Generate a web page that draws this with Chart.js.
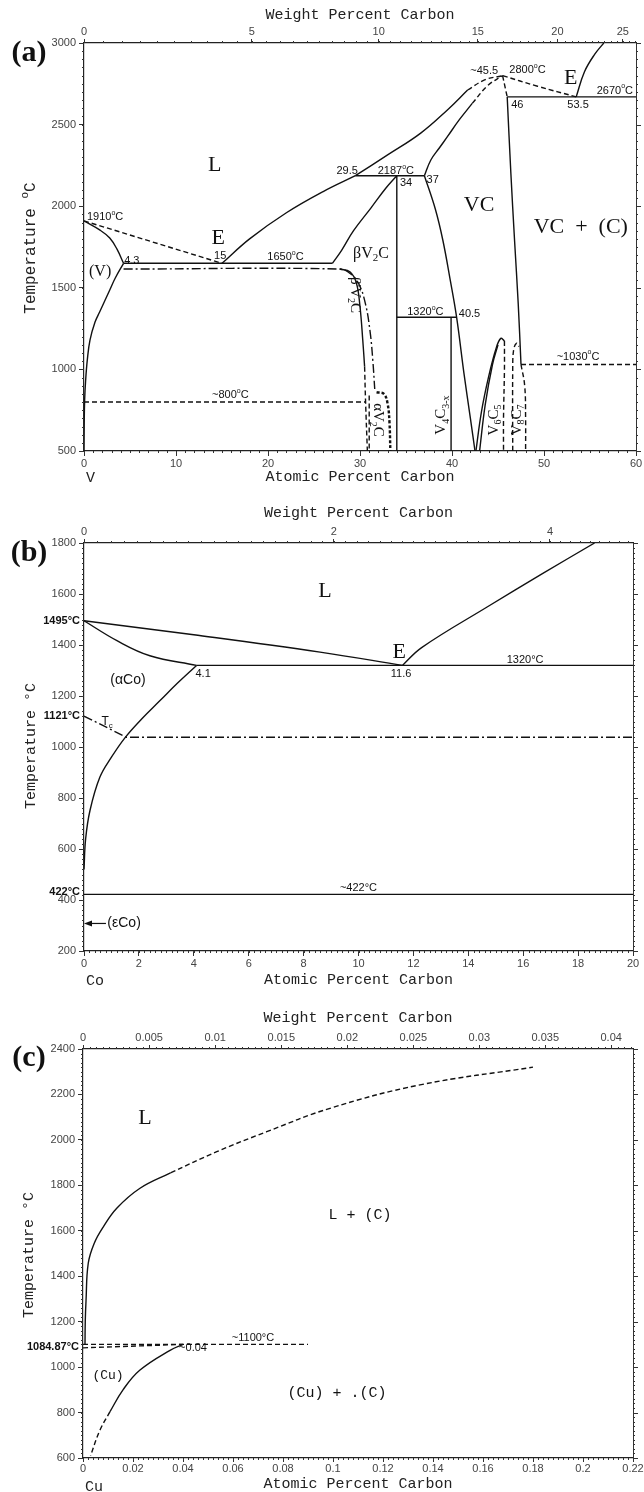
<!DOCTYPE html>
<html lang="en">
<head>
<meta charset="UTF-8">
<meta name="viewport" content="width=device-width, initial-scale=1.0">
<title>V-C, Co-C and Cu-C phase diagrams</title>
<script src="https://cdn.jsdelivr.net/npm/chart.js"></script>
<style>
  body { margin: 0; background: #fff; }
  .panel { position: absolute; left: 0; }
</style>
</head>
<body>
<canvas id="chartV" class="panel" style="top:0" width="644" height="490"></canvas>
<canvas id="chartCo" class="panel" style="top:490px" width="644" height="500"></canvas>
<canvas id="chartCu" class="panel" style="top:990px" width="644" height="502"></canvas>

<script>
// ---------- V-C  (atomic % C, deg C) ----------
const vcAtomicTicks = [0, 10, 20, 30, 40, 50, 60];
const vcWeightTicks = [0, 5, 10, 15, 20, 25];
const vcTempTicks = [500, 1000, 1500, 2000, 2500, 3000];

const vcLiqV = [[0, 1910], [15, 1650]];
const vcSolidusV = [[0, 1910], [1.7, 1855], [2.8, 1805], [3.6, 1735], [4.3, 1650]];
const vcSolvusV = [[4.3, 1650], [3.4, 1560], [2.8, 1487], [1.7, 1352], [1.2, 1290], [0.65, 1180], [0.36, 1058], [0.18, 935], [0.07, 812], [0.02, 650], [0, 500]];
const vcLiqBeta = [[15, 1650], [18, 1800], [22, 1960], [26, 2090], [29.5, 2187]];
const vcLiqVC = [[29.5, 2187], [33, 2314], [36.6, 2448], [39.5, 2590], [41.7, 2712]];
const vcLiqVCDash = [[41.7, 2712], [43.6, 2775], [45.5, 2800]];
const vcSolidusVC = [[37, 2187], [37.7, 2283], [38.6, 2355], [39.5, 2426], [40.8, 2530], [42.2, 2630]];
const vcSolidusVCDash = [[42.2, 2630], [43.9, 2740], [45.5, 2800]];
const vcPeakRight = [[45.5, 2800], [46, 2670]];
const vcLiqCDash = [[45.5, 2800], [49.3, 2735], [53.5, 2670]];
const vcEutecticC = [[46, 2670], [60, 2670]];
const vcLiqGraphite = [[53.5, 2670], [54.4, 2824], [55.5, 2930], [56.5, 3000]];
const vcRightVC = [[46, 2670], [46.4, 2200], [46.8, 1790], [47.2, 1400], [47.5, 1030]];
const vcLeftVC = [[37, 2187], [38.2, 1980], [39.0, 1793], [39.8, 1550], [40.5, 1320], [41.3, 976], [42.0, 700], [42.5, 500]];
const vcPeritectic = [[29.5, 2187], [37, 2187]];
const vcV2CEdge = [[34, 2187], [34, 500]];
const vcEutecticV = [[4.3, 1650], [27, 1650]];
const vcBetaLeft = [[27, 1650], [28.0, 1730], [29.3, 1850], [31.2, 1990], [32.8, 2110], [34, 2187]];
const vcBetaOrder = [[4.3, 1615], [27.8, 1615], [29.0, 1585], [29.9, 1520], [30.6, 1400], [31.1, 1230], [31.4, 1050], [31.6, 880]];
const vcBetaSolvus = [[27.8, 1615], [28.9, 1598], [29.6, 1530], [30.0, 1384], [30.3, 1180], [30.5, 1017]];
const vcBetaSolvusDash = [[30.5, 1017], [30.6, 812], [30.8, 500]];
const vcLine800 = [[0, 800], [30.6, 800]];
const vcAlphaLeft = [[31.0, 840], [31.0, 500]];
const vcAlphaRight = [[31.8, 860], [32.6, 850], [33.0, 790], [33.2, 680], [33.3, 500]];
const vcV4C3Top = [[34, 1320], [40.5, 1320]];
const vcV4C3Edge = [[39.9, 1320], [39.9, 500]];
const vcV6C5Outer = [[42.6, 500], [43.2, 740], [44.0, 960], [44.8, 1130], [45.3, 1190], [45.7, 1175]];
const vcV6C5Inner = [[43.0, 500], [43.6, 780], [44.4, 1030], [45.0, 1150]];
const vcV6C5Right = [[45.7, 1175], [45.7, 1000], [45.6, 700], [45.6, 500]];
const vcV8C7Left = [[46.6, 500], [46.6, 1000], [46.7, 1120], [47.0, 1160], [47.3, 1140]];
const vcV8C7Right = [[47.5, 1030], [47.9, 900], [48.0, 700], [48.0, 500]];
const vcLine1030 = [[47.5, 1030], [60, 1030]];

const vcLabels = [
  ['L', 14.2, 2252, 'phase'],
  ['E', 14.6, 1805, 'phase'],
  ['(V)', 1.75, 1597, 'phaseSm'],
  ['1910^oC', 2.3, 1932, 'num'],
  ['4.3', 5.2, 1666, 'num'],
  ['15', 14.8, 1695, 'num'],
  ['1650^oC', 21.9, 1687, 'num'],
  ['29.5', 28.6, 2217, 'num'],
  ['2187^oC', 33.9, 2217, 'num'],
  ['34', 35.0, 2140, 'num'],
  ['37', 37.9, 2160, 'num'],
  ['~45.5', 43.5, 2830, 'num'],
  ['2800^oC', 48.2, 2834, 'num'],
  ['E', 52.9, 2784, 'phase'],
  ['2670^oC', 57.7, 2708, 'num'],
  ['46', 47.1, 2620, 'num'],
  ['53.5', 53.7, 2620, 'num'],
  ['VC', 42.95, 2007, 'phase'],
  ['VC  +  (C)', 54.0, 1874, 'phase'],
  ['βV_2C', 31.2, 1711, 'phaseSm'],
  ["β'V_2C", 29.5, 1456, 'phaseXs', 90],
  ['1320^oC', 37.1, 1353, 'num'],
  ['40.5', 41.9, 1339, 'num'],
  ['~1030^oC', 53.7, 1078, 'num'],
  ['~800^oC', 15.9, 843, 'num'],
  ['αV_2C', 31.9, 690, 'phaseXs', 90],
  ['V_4C_{3-x}', 38.85, 720, 'phaseXs', -90],
  ['V_6C_5', 44.6, 690, 'phaseXs', -90],
  ['V_8C_7', 47.1, 690, 'phaseXs', -90]
];

// ---------- Co-C ----------
const coAtomicTicks = [0, 2, 4, 6, 8, 10, 12, 14, 16, 18, 20];
const coWeightTicks = [0, 2, 4];
const coTempTicks = [200, 400, 600, 800, 1000, 1200, 1400, 1600, 1800];

const coLiquidus = [[0, 1495], [4, 1440], [8.6, 1372], [11.6, 1320]];
const coSolidus = [[0, 1495], [1.2, 1417], [2.4, 1358], [4.1, 1320]];
const coEutectic = [[4.1, 1320], [20, 1320]];
const coGraphite = [[11.6, 1320], [12.3, 1390], [14.7, 1550], [16.7, 1680], [18.6, 1800]];
const coSolvus = [[4.1, 1320], [3.4, 1250], [2.77, 1182], [2.1, 1110], [1.49, 1036], [1.0, 960], [0.58, 882], [0.22, 752], [0.06, 640], [0, 520]];
const coCurie = [[0, 1121], [1.55, 1038], [20, 1038]];
const coMartensite = [[0, 422], [20, 422]];
const coEpsArrow = [[0.8, 308], [0, 308]];

const coLabels = [
  ['L', 8.78, 1612, 'phase'],
  ['E', 11.48, 1372, 'phase'],
  ['4.1', 4.34, 1288, 'num'],
  ['11.6', 11.55, 1288, 'num'],
  ['1320°C', 16.07, 1340, 'num'],
  ['(αCo)', 1.6, 1262, 'sans'],
  ['T_c', 0.84, 1098, 'sansSm'],
  ['~422°C', 10, 446, 'num'],
  ['(εCo)', 0.85, 310, 'sans', 0, 'left'],
  ['1495°C', 0, 1495, 'numB', 0, 'out'],
  ['1121°C', 0, 1121, 'numB', 0, 'out'],
  ['422°C', 0, 432, 'numB', 0, 'out']
];

// ---------- Cu-C ----------
const cuAtomicTicks = [0, 0.02, 0.04, 0.06, 0.08, 0.1, 0.12, 0.14, 0.16, 0.18, 0.2, 0.22];
const cuAtomicLabels = ['0', '0.02', '0.04', '0.06', '0.08', '0.1', '0.12', '0.14', '0.16', '0.18', '0.2', '0.22'];
const cuWeightTicks = [0, 0.005, 0.01, 0.015, 0.02, 0.025, 0.03, 0.035, 0.04];
const cuWeightLabels = ['0', '0.005', '0.01', '0.015', '0.02', '0.025', '0.03', '0.035', '0.04'];
const cuTempTicks = [600, 800, 1000, 1200, 1400, 1600, 1800, 2000, 2200, 2400];

const cuLiquidus = [[0.0008, 1100], [0.0009, 1200], [0.0012, 1290], [0.0021, 1457], [0.0045, 1545], [0.008, 1615], [0.0135, 1699], [0.0228, 1787], [0.035, 1855]];
const cuLiquidusDash = [[0.035, 1855], [0.0535, 1948], [0.0735, 2036], [0.0988, 2139], [0.1348, 2242], [0.18, 2320]];
const cuLine1100 = [[0, 1100], [0.09, 1100]];
const cuSolidus = [[0, 1084.87], [0.04, 1100]];
const cuSolvus = [[0.04, 1100], [0.035, 1075], [0.0228, 987], [0.016, 900], [0.0108, 804]];
const cuSolvusDash = [[0.0108, 804], [0.0068, 723], [0.003, 610]];

const cuLabels = [
  ['L', 0.0248, 2096, 'phase'],
  ['L + (C)', 0.1108, 1670, 'mono'],
  ['(Cu)', 0.01, 965, 'monoSm'],
  ['(Cu) + .(C)', 0.1016, 886, 'mono'],
  ['~1100°C', 0.068, 1128, 'num'],
  ['~0.04', 0.044, 1084, 'num'],
  ['1084.87°C', 0, 1090, 'numB', 0, 'out']
];

// ---------- drawing helpers ----------
const MASS_C = 12.011;
// atomic % carbon for a weight % carbon
const atomicFromWeight = (w, metal) => 100 * (w / MASS_C) / (w / MASS_C + (100 - w) / metal);

const SERIF = '"Liberation Serif", "DejaVu Serif", serif';
const SANS = '"Liberation Sans", Arial, sans-serif';
const MONO = '"Liberation Mono", "DejaVu Sans Mono", monospace';

const STYLES = {
  phase: { family: SERIF, size: 22 },
  phaseSm: { family: SERIF, size: 16 },
  phaseXs: { family: SERIF, size: 15 },
  num: { family: SANS, size: 11 },
  numB: { family: SANS, size: 11, weight: 'bold' },
  sans: { family: SANS, size: 14 },
  sansSm: { family: SANS, size: 12 },
  mono: { family: MONO, size: 15 },
  monoSm: { family: MONO, size: 13 },
  title: { family: MONO, size: 15, color: '#222' },
  titleA: { family: MONO, size: 16, color: '#222' },
  tag: { family: SERIF, size: 30, weight: 'bold' }
};

const DASH = { solid: [], dash: [5, 3], dashdot: [9, 3, 2, 3], bold: [3, 2] };

function parseRich(str) {
  const segs = [];
  let buf = '', i = 0;
  while (i < str.length) {
    const c = str[i];
    if ((c === '_' || c === '^') && i + 1 < str.length) {
      if (buf) { segs.push({ t: buf, k: 0 }); buf = ''; }
      let t;
      if (str[i + 1] === '{') { const j = str.indexOf('}', i); t = str.slice(i + 2, j); i = j + 1; }
      else { t = str[i + 1]; i += 2; }
      segs.push({ t, k: c === '_' ? -1 : 1 });
    } else { buf += c; i++; }
  }
  if (buf) segs.push({ t: buf, k: 0 });
  return segs;
}

function drawRich(ctx, text, x, y, st, rot, align) {
  const segs = parseRich(text);
  const fontFor = k => `${st.weight || 'normal'} ${k ? Math.round(st.size * 0.68) : st.size}px ${st.family}`;
  ctx.save();
  ctx.translate(x, y);
  if (rot) ctx.rotate(rot * Math.PI / 180);
  ctx.textBaseline = 'middle';
  ctx.textAlign = 'left';
  ctx.fillStyle = st.color || '#111';
  let total = 0;
  segs.forEach(s => { ctx.font = fontFor(s.k); s.w = ctx.measureText(s.t).width; total += s.w; });
  let cx = align === 'left' ? 0 : align === 'right' ? -total : -total / 2;
  segs.forEach(s => {
    ctx.font = fontFor(s.k);
    ctx.fillText(s.t, cx, s.k > 0 ? -st.size * 0.38 : s.k < 0 ? st.size * 0.3 : 0);
    cx += s.w;
  });
  ctx.restore();
}

const stepVals = (min, max, step) => {
  const out = [];
  for (let i = 0; min + i * step <= max + step * 1e-6; i++) out.push(min + i * step);
  return out;
};

function tickRun(ctx, vals, toPx, side, a, len) {
  ctx.beginPath();
  vals.forEach(v => {
    const q = Math.round(toPx(v)) + 0.5;
    if (side === 'bottom') { ctx.moveTo(q, a.bottom); ctx.lineTo(q, a.bottom + len); }
    if (side === 'top') { ctx.moveTo(q, a.top); ctx.lineTo(q, a.top - len); }
    if (side === 'left') { ctx.moveTo(a.left, q); ctx.lineTo(a.left - len, q); }
    if (side === 'right') { ctx.moveTo(a.right, q); ctx.lineTo(a.right + len, q); }
  });
  ctx.stroke();
}

const tickFont = { family: SANS, size: 11 };

function makePanel(id, p) {
  const datasets = p.curves.map(([pts, style, smooth, width]) => ({
    data: pts.map(([x, y]) => ({ x, y })),
    showLine: true,
    pointRadius: 0,
    borderColor: '#111',
    borderWidth: width || 1.4,
    borderDash: DASH[style],
    tension: smooth ? 0.4 : 0
  }));
  const weightPos = p.wTicks.map(w => atomicFromWeight(w, p.metal));

  const decor = {
    id: 'decor',
    afterDraw(chart) {
      const { ctx, chartArea: a, scales } = chart;
      const xs = scales.x, ys = scales.y;
      ctx.save();
      ctx.strokeStyle = '#333';
      ctx.lineWidth = 1;
      // right frame edge
      ctx.beginPath();
      ctx.moveTo(a.right + 0.5, a.top);
      ctx.lineTo(a.right + 0.5, a.bottom);
      ctx.stroke();
      const px = v => xs.getPixelForValue(v);
      const py = v => ys.getPixelForValue(v);
      const pw = w => xs.getPixelForValue(atomicFromWeight(w, p.metal));
      tickRun(ctx, stepVals(p.xMin, p.xMax, p.minor.x), px, 'bottom', a, 2);
      tickRun(ctx, stepVals(p.yMin, p.yMax, p.minor.y), py, 'left', a, 2);
      tickRun(ctx, stepVals(p.yMin, p.yMax, p.minor.y), py, 'right', a, 2);
      tickRun(ctx, p.yTicks, py, 'right', a, 5);
      tickRun(ctx, stepVals(0, p.wMax, p.minor.w).filter(w => atomicFromWeight(w, p.metal) <= p.xMax), pw, 'top', a, 2);
      ctx.restore();

      if (p.arrow) {
        const [[x0, y0], [x1, y1]] = p.arrow;
        const ax0 = px(x0), ax1 = px(x1), ay = py(y0);
        ctx.save();
        ctx.strokeStyle = '#111'; ctx.fillStyle = '#111'; ctx.lineWidth = 1.2;
        ctx.beginPath(); ctx.moveTo(ax0, ay); ctx.lineTo(ax1 + 4, py(y1)); ctx.stroke();
        ctx.beginPath(); ctx.moveTo(ax1, ay); ctx.lineTo(ax1 + 8, ay - 3); ctx.lineTo(ax1 + 8, ay + 3); ctx.closePath(); ctx.fill();
        ctx.restore();
      }

      p.labels.forEach(([t, xv, yv, key, rot, align]) => {
        let x = px(xv), al = align;
        if (align === 'out') { x = a.left - 4; al = 'right'; }
        drawRich(ctx, t, x, py(yv), STYLES[key], rot, al);
      });

      const cx = (a.left + a.right) / 2;
      drawRich(ctx, 'Weight Percent Carbon', cx, p.titles.top, STYLES.title);
      drawRich(ctx, 'Atomic Percent Carbon', cx, p.titles.bottom, STYLES.title);
      drawRich(ctx, p.element, a.left + 2, p.titles.element, STYLES.title, 0, 'left');
      drawRich(ctx, p.yTitle, p.titles.yx, p.titles.yy, p.yTitleStyle, -90);
      drawRich(ctx, p.tag, 29, p.titles.tag, STYLES.tag);
    }
  };

  const axisBase = {
    type: 'linear',
    grid: { drawOnChartArea: false, tickLength: 5, color: '#333' },
    border: { color: '#222', width: 1.2 }
  };

  return new Chart(document.getElementById(id), {
    type: 'scatter',
    data: { datasets },
    options: {
      responsive: false,
      animation: false,
      events: [],
      layout: { padding: { left: 0, right: p.area.right, top: 0, bottom: 0 } },
      plugins: { legend: { display: false }, tooltip: { enabled: false } },
      scales: {
        x: {
          ...axisBase, position: 'bottom', min: p.xMin, max: p.xMax,
          grid: { drawOnChartArea: false, tickLength: p.xTickLen, color: '#333' },
          afterBuildTicks: s => { s.ticks = p.xTicks.map(v => ({ value: v })); },
          afterFit: s => { s.height = p.area.bottom; s.paddingLeft = 0; s.paddingRight = 0; },
          ticks: { autoSkip: false, maxRotation: 0, padding: p.xTickPad, color: '#444', font: tickFont, callback: (v, i) => p.xLabels[i] }
        },
        xw: {
          ...axisBase, position: 'top', min: p.xMin, max: p.xMax,
          grid: { drawOnChartArea: false, tickLength: 4, color: '#333' },
          afterBuildTicks: s => { s.ticks = weightPos.map(v => ({ value: v })); },
          afterFit: s => { s.height = p.area.top; s.paddingLeft = 0; s.paddingRight = 0; },
          ticks: { autoSkip: false, maxRotation: 0, padding: 0, color: '#444', font: tickFont, callback: (v, i) => p.wLabels[i] }
        },
        y: {
          ...axisBase, position: 'left', min: p.yMin, max: p.yMax,
          afterBuildTicks: s => { s.ticks = p.yTicks.map(v => ({ value: v })); },
          afterFit: s => { s.width = p.area.left; s.paddingTop = 0; s.paddingBottom = 0; },
          ticks: { autoSkip: false, padding: 3, color: '#444', font: tickFont, callback: v => String(v) }
        }
      }
    },
    plugins: [decor]
  });
}

makePanel('chartV', {
  metal: 50.94, element: 'V', tag: '(a)',
  xMin: 0, xMax: 60, yMin: 500, yMax: 3000, wMax: 26,
  xTicks: vcAtomicTicks, xLabels: vcAtomicTicks.map(String), xTickLen: 5, xTickPad: 1,
  wTicks: vcWeightTicks, wLabels: vcWeightTicks.map(String),
  yTicks: vcTempTicks,
  minor: { x: 1, y: 50, w: 0.5 },
  area: { left: 84, right: 8, top: 43, bottom: 39 },
  titles: { top: 15, bottom: 477, element: 478, yx: 31, yy: 248, tag: 53 },
  yTitle: 'Temperature ^oC', yTitleStyle: STYLES.titleA,
  labels: vcLabels,
  curves: [
    [vcLiqV, 'dash'], [vcSolidusV, 'solid', true], [vcSolvusV, 'solid', true],
    [vcLiqBeta, 'solid', true], [vcLiqVC, 'solid', true], [vcLiqVCDash, 'dash', true],
    [vcSolidusVC, 'solid', true], [vcSolidusVCDash, 'dash', true],
    [vcPeakRight, 'dash'], [vcLiqCDash, 'dash', true], [vcEutecticC, 'solid'],
    [vcLiqGraphite, 'solid', true], [vcRightVC, 'solid', true], [vcLeftVC, 'solid', true],
    [vcPeritectic, 'solid'], [vcV2CEdge, 'solid'], [vcEutecticV, 'solid'],
    [vcBetaLeft, 'solid', true], [vcBetaOrder, 'dashdot', true],
    [vcBetaSolvus, 'solid', true], [vcBetaSolvusDash, 'dash', true],
    [vcLine800, 'dash'], [vcAlphaLeft, 'dash'], [vcAlphaRight, 'bold', true, 2.4],
    [vcV4C3Top, 'solid'], [vcV4C3Edge, 'solid'],
    [vcV6C5Outer, 'solid', true], [vcV6C5Inner, 'solid', true], [vcV6C5Right, 'dash', true],
    [vcV8C7Left, 'dash', true], [vcV8C7Right, 'dash', true], [vcLine1030, 'dash']
  ]
});

makePanel('chartCo', {
  metal: 58.933, element: 'Co', tag: '(b)',
  xMin: 0, xMax: 20, yMin: 200, yMax: 1800, wMax: 4.8,
  xTicks: coAtomicTicks, xLabels: coAtomicTicks.map(String), xTickLen: 5, xTickPad: 1,
  wTicks: coWeightTicks, wLabels: coWeightTicks.map(String),
  yTicks: coTempTicks,
  minor: { x: 0.2, y: 20, w: 0.1 },
  area: { left: 84, right: 11, top: 53, bottom: 39 },
  titles: { top: 23, bottom: 490, element: 491, yx: 31, yy: 256, tag: 63 },
  yTitle: 'Temperature °C', yTitleStyle: STYLES.title,
  labels: coLabels,
  arrow: coEpsArrow,
  curves: [
    [coLiquidus, 'solid', true], [coSolidus, 'solid', true], [coEutectic, 'solid'],
    [coGraphite, 'solid', true], [coSolvus, 'solid', true],
    [coCurie, 'dashdot'], [coMartensite, 'solid']
  ]
});

makePanel('chartCu', {
  metal: 63.546, element: 'Cu', tag: '(c)',
  xMin: 0, xMax: 0.22, yMin: 600, yMax: 2400, wMax: 0.042,
  xTicks: cuAtomicTicks, xLabels: cuAtomicLabels, xTickLen: 4, xTickPad: 0,
  wTicks: cuWeightTicks, wLabels: cuWeightLabels,
  yTicks: cuTempTicks,
  minor: { x: 0.002, y: 20, w: 0.0005 },
  area: { left: 83, right: 11, top: 59, bottom: 34 },
  titles: { top: 28, bottom: 494, element: 497, yx: 29, yy: 265, tag: 68 },
  yTitle: 'Temperature °C', yTitleStyle: STYLES.title,
  labels: cuLabels,
  curves: [
    [cuLiquidus, 'solid', true], [cuLiquidusDash, 'dash', true],
    [cuLine1100, 'dash'], [cuSolidus, 'dash'],
    [cuSolvus, 'solid', true], [cuSolvusDash, 'dash', true]
  ]
});
</script>
</body>
</html>
